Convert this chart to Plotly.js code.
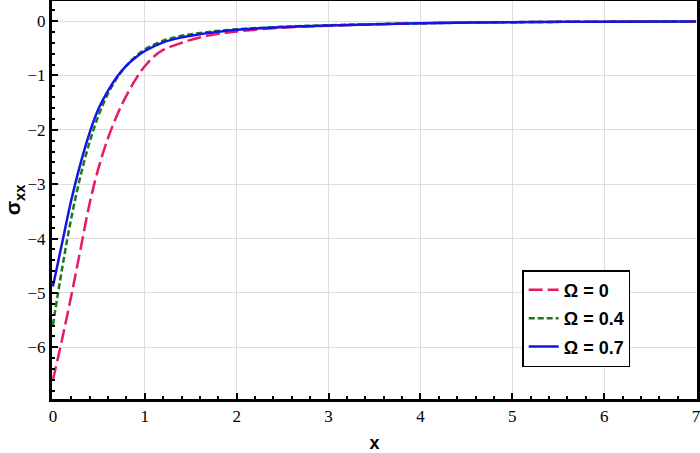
<!DOCTYPE html>
<html>
<head>
<meta charset="utf-8">
<script src="https://cdn.plot.ly/plotly-3.0.1.min.js"></script>
<style>
  html, body { margin: 0; padding: 0; background: #fff; }
  #chart { width: 700px; height: 453px; }
</style>
</head>
<body>
<div id="chart"></div>
<script>
// values
const xOmega0 = [0, 0.1, 0.2, 0.3, 0.4, 0.5, 0.6, 0.7, 0.8, 0.9, 1.0, 1.1, 1.2, 1.4, 1.6, 1.8, 2.0, 2.5, 3.0, 4.0, 5.0, 6.0, 7.0];
const yOmega0 = [-6.60, -5.85, -5.05, -4.2, -3.35, -2.68, -2.15, -1.72, -1.37, -1.07, -0.83, -0.65, -0.53, -0.40, -0.30, -0.235, -0.19, -0.12, -0.085, -0.04, -0.02, -0.01, -0.005];

const xOmega04 = [0, 0.1, 0.2, 0.3, 0.4, 0.5, 0.6, 0.7, 0.8, 0.9, 1.0, 1.2, 1.4, 1.6, 1.8, 2.0, 2.5, 3.0, 4.0, 5.0, 6.0, 7.0];
const yOmega04 = [-5.59, -4.55, -3.62, -2.85, -2.22, -1.72, -1.33, -1.04, -0.82, -0.65, -0.52, -0.36, -0.27, -0.22, -0.18, -0.15, -0.105, -0.075, -0.04, -0.02, -0.01, -0.005];

const xOmega07 = [0, 0.1, 0.2, 0.3, 0.4, 0.5, 0.6, 0.7, 0.8, 0.9, 1.0, 1.2, 1.4, 1.6, 1.8, 2.0, 2.5, 3.0, 4.0, 5.0, 6.0, 7.0];
const yOmega07 = [-4.88, -4.08, -3.29, -2.62, -2.05, -1.60, -1.28, -1.02, -0.82, -0.67, -0.55, -0.39, -0.30, -0.24, -0.195, -0.16, -0.11, -0.08, -0.04, -0.02, -0.01, -0.005];

const seriesNames = ['Ω = 0', 'Ω = 0.4', 'Ω = 0.7'];

const traces = [
    {
        x: xOmega0, y: yOmega0, mode: 'lines', name: seriesNames[0], legendgroup: 'a',
        line: {color: '#e8186b', width: 2.5, dash: '14px,5px', shape: 'spline'},
    },
    {
        x: xOmega04, y: yOmega04, mode: 'lines', name: seriesNames[1], legendgroup: 'b',
        line: {color: '#1a7a1a', width: 2.5, dash: '6px,3px', shape: 'spline'},
    },
    {
        x: xOmega07, y: yOmega07, mode: 'lines', name: seriesNames[2], legendgroup: 'c',
        line: {color: '#1414e6', width: 2.5, shape: 'spline'},
    },
];

const serif = 'Liberation Serif, Times New Roman, serif';
const sans = 'Liberation Sans, Arial, sans-serif';
const tickFont = {family: serif, size: 17, color: '#000'};

const axisCommon = {
    dtick: 1,
    tick0: 0,
    showgrid: true,
    gridcolor: '#dcdcdc',
    gridwidth: 1,
    zeroline: false,
    showline: true,
    linecolor: '#000',
    linewidth: 3,
    mirror: true,
    ticks: 'inside',
    ticklen: 6,
    tickwidth: 2,
    tickcolor: '#000',
    minor: {dtick: 0.2, ticks: 'inside', ticklen: 3, tickwidth: 2, tickcolor: '#000', showgrid: false},
    tickfont: tickFont,
};

const layout = {
    width: 700,
    height: 453,
    margin: {l: 52, r: 3, t: 1, b: 54},
    paper_bgcolor: '#fff',
    plot_bgcolor: '#fff',
    // tick labels inherit this serif face
    font: {family: serif, size: 17, color: '#000'},
    showlegend: true,
    legend: {
        x: 0.729, y: 0.324, xanchor: 'left', yanchor: 'top',
        bgcolor: '#fff', bordercolor: '#000', borderwidth: 1.5,
        font: {family: sans, size: 18, color: '#000', weight: 'bold'},
        traceorder: 'grouped',
        tracegroupgap: 2,
        entrywidth: 110,
    },
    xaxis: Object.assign({}, axisCommon, {
        range: [-0.01, 7.01],
        ticklabeloverflow: 'allow',
        title: {text: '<b>x</b>', font: {family: sans, size: 18, color: '#000'}, standoff: 16},
    }),
    yaxis: Object.assign({}, axisCommon, {
        range: [-6.95, 0.37],
        title: {text: '<b>σ<sub>xx</sub></b>', font: {family: sans, size: 21, color: '#000'}, standoff: 1},
    }),
};

Plotly.newPlot('chart', traces, layout, {displayModeBar: false, staticPlot: true});
</script>
</body>
</html>
